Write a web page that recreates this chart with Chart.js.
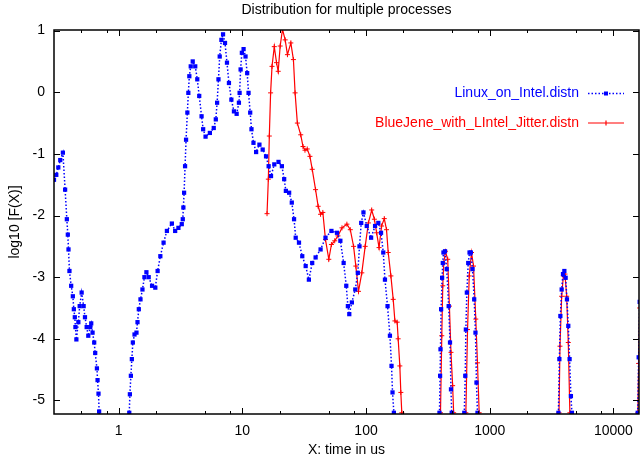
<!DOCTYPE html>
<html><head><meta charset="utf-8">
<script src="https://cdn.jsdelivr.net/npm/chart.js@4.4.1/dist/chart.umd.min.js"></script>
<style>html,body{margin:0;padding:0;background:#fff;}canvas{display:block;}</style>
</head><body>
<canvas id="c" width="644" height="462"></canvas>
<script>
const titleText = 'Distribution for multiple processes';
const xTitle = 'X: time in us';
const yTitle = 'log10 [F(X)]';
const seriesNames = ['Linux_on_Intel.distn', 'BlueJene_with_LIntel_Jitter.distn'];
const xTickValues = [1, 10, 100, 1000, 10000];
const xTickLabels = ['1', '10', '100', '1000', '10000'];
const xMinorMultipliers = [2, 5, 8];
const yTickValues = [-5, -4, -3, -2, -1, 0, 1];
const yTickLabels = ['-5', '-4', '-3', '-2', '-1', '0', '1'];

const linuxX = [0.30, 0.313, 0.325, 0.337, 0.354, 0.369, 0.381, 0.388, 0.393, 0.400, 0.413, 0.426, 0.434, 0.442, 0.447, 0.455, 0.472, 0.484, 0.502, 0.521, 0.534, 0.551, 0.568, 0.589, 0.600, 0.615, 0.634, 0.646, 0.667, 0.675, 0.687, 0.695, 0.718,
  1.18, 1.218, 1.232, 1.255, 1.278, 1.302, 1.343, 1.393, 1.420, 1.455, 1.501, 1.557, 1.615, 1.676, 1.749, 1.862, 1.978, 2.065, 2.172, 2.307, 2.455, 2.693, 2.862, 3.041, 3.237, 3.298, 3.335, 3.380, 3.442, 3.506, 3.592, 3.658, 3.726, 3.825, 3.969,
  4.16, 4.32, 4.48, 4.68, 4.82, 5.04, 5.46, 5.87, 6.10, 6.25, 6.41, 6.56, 6.77, 6.98, 7.24, 7.51, 7.79, 8.15, 8.55, 8.99, 9.38, 9.50, 9.68, 9.91, 10.23, 10.61, 10.94, 11.22, 11.57, 11.85, 12.30, 12.92, 13.74, 14.60, 15.54, 16.31, 17.05, 18.12, 19.60, 20.87, 21.78, 22.48, 23.89, 25.10, 26.18,
  27.0, 28.7, 30.5, 32.5, 34.5, 36.7, 39.1, 42.9, 47.0, 52.5, 58.2, 62.0, 65.9, 69.2, 71.3, 73.2, 76.8, 81.8, 85.8, 88.5, 91.4, 95.3, 101.3, 109.9, 118.3, 125.7, 132.2, 137.8, 142.2, 149.2, 156.0, 160.7, 163.7, 167.9, 175.4,
  385, 392.3, 396.9, 399.9, 404.5, 412.1, 417.2, 422.5, 435.0, 449.0, 465.8, 477.3, 486.0, 492.6, 500,
  615, 622.6, 634.0, 641.2, 653.1, 670.0, 686.6, 703.5, 725.7, 748.8, 766.9, 781.3, 795.9, 805,
  3550, 3592, 3657, 3725, 3816, 3911, 4012, 4109, 4211, 4316, 4423, 4533, 4618, 4700,
  15600, 15710, 16000, 16300];
const linuxY = [-1.42, -1.34, -1.22, -1.10, -0.98, -1.58, -2.06, -2.31, -2.55, -2.90, -3.14, -3.31, -3.52, -3.65, -3.81, -4.01, -3.73, -3.47, -3.25, -3.47, -3.65, -3.81, -3.95, -3.81, -3.75, -3.90, -4.06, -4.23, -4.48, -4.67, -4.89, -5.18, -6.0,
  -6.0, -5.20, -4.90, -4.60, -4.33, -4.06, -3.93, -3.90, -3.73, -3.52, -3.36, -3.20, -3.00, -2.92, -3.00, -3.14, -3.17, -2.90, -2.66, -2.44, -2.25, -2.13, -2.25, -2.20, -2.14, -2.06, -1.87, -1.63, -1.20, -0.77, -0.33, -0.01, 0.26, 0.42, 0.50,
  0.42, 0.21, -0.06, -0.39, -0.60, -0.72, -0.66, -0.58, -0.44, -0.17, 0.21, 0.58, 0.85, 0.94, 0.80, 0.48, 0.15, -0.12, -0.31, -0.35, -0.17, -0.01, 0.37, 0.64, 0.70, 0.58, 0.31, -0.01, -0.33, -0.60, -0.82, -0.97, -0.85, -0.93, -1.04, -1.20, -1.36, -1.17, -1.13, -1.20, -1.41, -1.60, -1.63, -1.79, -2.06,
  -2.36, -2.44, -2.66, -2.82, -3.04, -2.77, -2.68, -2.55, -2.36, -2.25, -2.28, -2.41, -2.77, -3.14, -3.47, -3.60, -3.41, -3.20, -2.93, -2.50, -2.12, -1.95, -2.17, -2.36, -2.17, -2.12, -2.28, -2.60, -3.04, -3.47, -3.95, -4.44, -4.87, -5.20, -6.0,
  -6.0, -5.20, -4.60, -4.17, -3.52, -3.01, -2.77, -2.60, -2.58, -2.87, -3.47, -4.06, -4.82, -5.20, -6.0,
  -6.0, -5.20, -4.60, -3.85, -3.25, -2.77, -2.60, -2.60, -2.87, -3.36, -3.90, -4.71, -5.20, -6.0,
  -6.0, -5.20, -4.33, -3.63, -3.20, -2.95, -2.90, -3.01, -3.36, -3.79, -4.33, -4.93, -5.20, -6.0,
  -6.0, -5.20, -4.30, -3.40];

const bgX = [15.83, 16.22, 16.52, 16.92, 17.37, 18.12, 18.89, 19.49, 20.22, 21.11, 22.19, 23.15, 24.66, 25.87, 26.69, 27.84, 29.65, 30.93, 32.08, 33.46, 35.18, 36.72, 39.07, 41.00, 42.88, 44.74,
  47.0, 50.0, 52.5, 55.8, 59.3, 63.9, 70.0, 74.6, 79.3, 82.7, 86.9, 92.4, 98.4, 104.5, 111.1, 116.8, 121.8, 127.4, 133.6, 140.4, 146.4, 151.1, 158.8, 165.8, 171.1, 178.5, 181.8, 187.6, 191.1, 194.6, 201.2,
  390, 399.9, 409.6, 417.2, 425.0, 438.3, 457.3, 472.0, 486.0, 501.2, 510.8, 520,
  630, 641.2, 661.6, 682.8, 712.4, 739.3, 771.4, 795.9, 821.5, 830,
  3580, 3631, 3698, 3816, 3939, 4058, 4188, 4316, 4446, 4550,
  15600, 15750, 16000, 16300];
const bgY = [-1.97, -1.41, -0.71, -0.01, 0.42, 0.74, 0.48, 0.34, 0.75, 1.02, 0.85, 0.61, 0.80, 0.53, -0.01, -0.50, -0.69, -0.88, -0.94, -0.92, -1.04, -1.25, -1.58, -1.85, -1.98, -1.95,
  -2.39, -2.71, -2.47, -2.41, -2.33, -2.20, -2.14, -2.23, -2.50, -2.82, -3.23, -2.93, -2.50, -2.12, -1.91, -2.06, -2.28, -2.52, -2.17, -2.05, -2.23, -2.60, -2.98, -3.36, -3.71, -3.73, -4.00, -4.44, -4.87, -5.20, -6.0,
  -6.0, -5.20, -3.95, -3.14, -2.77, -2.58, -2.71, -3.47, -4.22, -4.76, -5.20, -6.0,
  -6.0, -5.20, -3.85, -2.98, -2.60, -2.82, -3.68, -4.39, -5.20, -6.0,
  -6.0, -5.20, -4.12, -3.31, -2.98, -2.95, -3.31, -4.06, -5.20, -6.0,
  -6.0, -5.20, -4.40, -3.50];

const BLUE = '#0000ff';
const RED = '#ff0000';
const FONT = '"Liberation Sans", Arial, Helvetica, sans-serif';

const framePlugin = {
  id: 'frame',
  afterDatasetsDraw(chart) {
    const {ctx, chartArea: a, scales: {x, y}} = chart;
    ctx.save();
    ctx.strokeStyle = '#000';
    ctx.lineWidth = 1;
    ctx.beginPath();
    xTickValues.forEach(v => {
      const p = Math.round(x.getPixelForValue(v)) + 0.5;
      ctx.moveTo(p, a.bottom); ctx.lineTo(p, a.bottom - 6);
      ctx.moveTo(p, a.top); ctx.lineTo(p, a.top + 6);
    });
    [0.1, 1, 10, 100, 1000, 10000].forEach(d => {
      xMinorMultipliers.forEach(m => {
        const v = d * m;
        if (v <= x.min || v >= x.max) return;
        const p = Math.round(x.getPixelForValue(v)) + 0.5;
        ctx.moveTo(p, a.bottom); ctx.lineTo(p, a.bottom - 3);
        ctx.moveTo(p, a.top); ctx.lineTo(p, a.top + 3);
      });
    });
    yTickValues.forEach(v => {
      const p = Math.round(y.getPixelForValue(v)) + 0.5;
      ctx.moveTo(a.left, p); ctx.lineTo(a.left + 6, p);
      ctx.moveTo(a.right, p); ctx.lineTo(a.right - 6, p);
    });
    ctx.stroke();
    ctx.lineWidth = 1.5;
    ctx.strokeRect(a.left, a.top, a.right - a.left, a.bottom - a.top);

    // key
    ctx.font = '14px ' + FONT;
    ctx.textAlign = 'right';
    ctx.textBaseline = 'middle';
    ctx.fillStyle = BLUE;
    ctx.fillText(seriesNames[0], 579, 93.5);
    ctx.fillStyle = RED;
    ctx.fillText(seriesNames[1], 579, 123);
    ctx.lineWidth = 1.5;
    ctx.strokeStyle = BLUE;
    ctx.setLineDash([1.5, 2]);
    ctx.beginPath(); ctx.moveTo(588, 93.5); ctx.lineTo(624, 93.5); ctx.stroke();
    ctx.setLineDash([]);
    ctx.fillStyle = BLUE;
    ctx.fillRect(604, 91.5, 4, 4);
    ctx.strokeStyle = RED;
    ctx.lineWidth = 1.2;
    ctx.beginPath(); ctx.moveTo(588, 123); ctx.lineTo(624, 123); ctx.stroke();
    ctx.beginPath(); ctx.moveTo(606, 120.5); ctx.lineTo(606, 125.5); ctx.stroke();
    ctx.restore();
  }
};

const toPts = (xs, ys) => xs.map((v, i) => ({x: v, y: ys[i]}));

new Chart(document.getElementById('c'), {
  type: 'scatter',
  data: {
    datasets: [
      {
        label: seriesNames[0],
        data: toPts(linuxX, linuxY),
        showLine: true,
        borderColor: BLUE,
        borderWidth: 1.5,
        borderDash: [1.5, 2],
        pointStyle: 'rect',
        pointRadius: 3,
        pointBackgroundColor: BLUE,
        pointBorderWidth: 0,
        pointBorderColor: BLUE,
        tension: 0
      },
      {
        label: seriesNames[1],
        data: toPts(bgX, bgY),
        showLine: true,
        borderColor: RED,
        borderWidth: 1.2,
        pointStyle: 'cross',
        pointRadius: 2.5,
        pointBorderWidth: 1,
        pointBorderColor: RED,
        pointBackgroundColor: RED,
        tension: 0
      }
    ]
  },
  options: {
    responsive: false,
    animation: false,
    devicePixelRatio: 1,
    layout: {padding: {top: 0, left: 0, right: 1, bottom: 0}},
    font: {family: FONT, size: 14},
    plugins: {
      legend: {display: false},
      tooltip: {enabled: false},
      title: {
        display: true,
        text: titleText,
        fullSize: false,
        color: '#000',
        font: {family: FONT, size: 14, weight: 'normal'},
        padding: {top: 2, bottom: 11.2}
      }
    },
    scales: {
      x: {
        type: 'logarithmic',
        min: 0.31,
        max: 16100,
        afterBuildTicks: s => { s.ticks = xTickValues.map(v => ({value: v})); },
        afterFit: s => { s.height = 48; },
        grid: {display: false, drawTicks: false},
        border: {display: false},
        ticks: {
          color: '#000',
          font: {family: FONT, size: 14},
          padding: 9,
          maxRotation: 0,
          autoSkip: false,
          callback: (v) => { const i = xTickValues.indexOf(v); return i >= 0 ? xTickLabels[i] : ''; }
        },
        title: {display: true, text: xTitle, color: '#000', font: {family: FONT, size: 14}, padding: {top: 0, bottom: 3.6}}
      },
      y: {
        type: 'linear',
        min: -5.22,
        max: 1.01,
        afterBuildTicks: s => { s.ticks = yTickValues.map(v => ({value: v})); },
        afterFit: s => { s.width = 54; },
        grid: {display: false, drawTicks: false},
        border: {display: false},
        ticks: {
          color: '#000',
          font: {family: FONT, size: 14},
          padding: 9,
          callback: (v) => { const i = yTickValues.indexOf(v); return i >= 0 ? yTickLabels[i] : ''; }
        },
        title: {display: true, text: yTitle, color: '#000', font: {family: FONT, size: 14}, padding: {top: 6.6, bottom: 0}}
      }
    }
  },
  plugins: [framePlugin]
});
</script>
</body></html>
